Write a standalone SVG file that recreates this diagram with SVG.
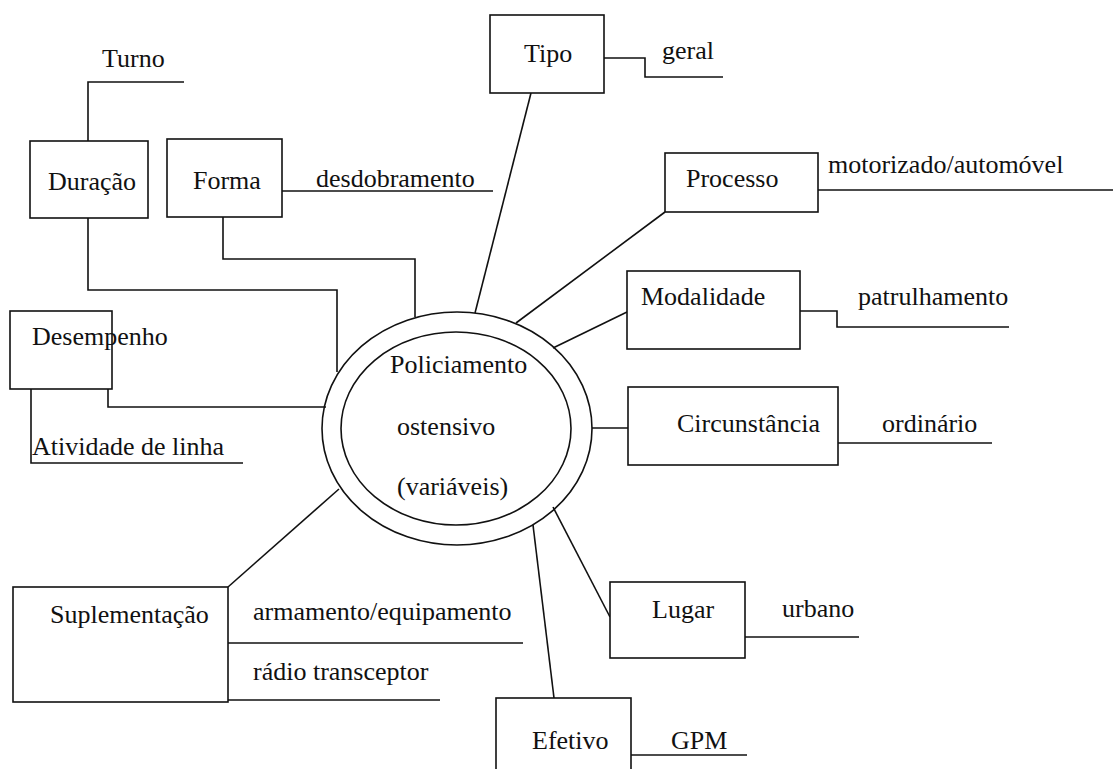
<svg xmlns="http://www.w3.org/2000/svg" width="1115" height="769" viewBox="0 0 1115 769">
<style>
.b{fill:#fff;stroke:#111;stroke-width:1.6}
.c{fill:none;stroke:#111;stroke-width:1.6}
.t{font-family:"Liberation Serif","Times New Roman",Times,"Noto Serif","DejaVu Serif",FreeSerif,Tinos,serif;font-size:26px;fill:#111}
</style>
<rect width="1115" height="769" fill="#fff"/>
<g id="connectors">
<path class="c" d="M88,141 V82 H184"/>
<path class="c" d="M88,218 V290 H337 V372"/>
<path class="c" d="M223,217 V259 H415 V317"/>
<path class="c" d="M282,191 H493"/>
<path class="c" d="M531,93 L475,313"/>
<path class="c" d="M604,58 H645 V77 H723"/>
<path class="c" d="M665,212 L516,323"/>
<path class="c" d="M818,190 H1113"/>
<path class="c" d="M627,312 L553,348"/>
<path class="c" d="M800,311 H837 V327 H1009"/>
<path class="c" d="M108,389 V407 H326"/>
<path class="c" d="M31,389 V463 H243"/>
<path class="c" d="M592,428 H628"/>
<path class="c" d="M838,443 H992"/>
<path class="c" d="M553,507 L610,617"/>
<path class="c" d="M745,637 H859"/>
<path class="c" d="M533,525 L554,698"/>
<path class="c" d="M631,755 H747"/>
<path class="c" d="M228,587 L339,489"/>
<path class="c" d="M228,643 H523"/>
<path class="c" d="M228,700 H440"/>
</g>
<g id="center">
<ellipse class="c" cx="457" cy="428.5" rx="135" ry="116.5"/>
<ellipse class="c" cx="456" cy="428.5" rx="115" ry="96.5"/>
<text class="t" x="390" y="373">Policiamento</text>
<text class="t" x="397" y="435">ostensivo</text>
<text class="t" x="397" y="495">(variáveis)</text>
</g>
<g id="turno"><text class="t" x="102" y="67">Turno</text></g>
<g id="duracao"><rect class="b" x="30" y="141" width="118" height="77"/><text class="t" x="48" y="190">Duração</text></g>
<g id="forma"><rect class="b" x="167" y="139" width="115" height="78"/><text class="t" x="193" y="189">Forma</text></g>
<g id="desdobramento"><text class="t" x="316" y="187">desdobramento</text></g>
<g id="tipo"><rect class="b" x="490" y="15" width="114" height="78"/><text class="t" x="524" y="62">Tipo</text></g>
<g id="geral"><text class="t" x="662" y="59">geral</text></g>
<g id="processo"><rect class="b" x="665" y="153" width="153" height="59"/><text class="t" x="686" y="187">Processo</text></g>
<g id="motorizado"><text class="t" x="828" y="173">motorizado/automóvel</text></g>
<g id="modalidade"><rect class="b" x="627" y="271" width="173" height="78"/><text class="t" x="641" y="305">Modalidade</text></g>
<g id="patrulhamento"><text class="t" x="858" y="305">patrulhamento</text></g>
<g id="desempenho"><rect class="b" x="10" y="311" width="102" height="78"/><text class="t" x="32" y="345">Desempenho</text></g>
<g id="atividade"><text class="t" x="32" y="455">Atividade de linha</text></g>
<g id="circunstancia"><rect class="b" x="628" y="387" width="210" height="78"/><text class="t" x="677" y="432">Circunstância</text></g>
<g id="ordinario"><text class="t" x="882" y="432">ordinário</text></g>
<g id="lugar"><rect class="b" x="610" y="582" width="135" height="76"/><text class="t" x="652" y="618">Lugar</text></g>
<g id="urbano"><text class="t" x="782" y="617">urbano</text></g>
<g id="efetivo"><rect class="b" x="496" y="698" width="135" height="90"/><text class="t" x="532" y="749">Efetivo</text></g>
<g id="gpm"><text class="t" x="671" y="749">GPM</text></g>
<g id="suplementacao"><rect class="b" x="13" y="587" width="215" height="115"/><text class="t" x="50" y="623">Suplementação</text></g>
<g id="armamento"><text class="t" x="253" y="620">armamento/equipamento</text></g>
<g id="radio"><text class="t" x="253" y="680">rádio transceptor</text></g>
</svg>
